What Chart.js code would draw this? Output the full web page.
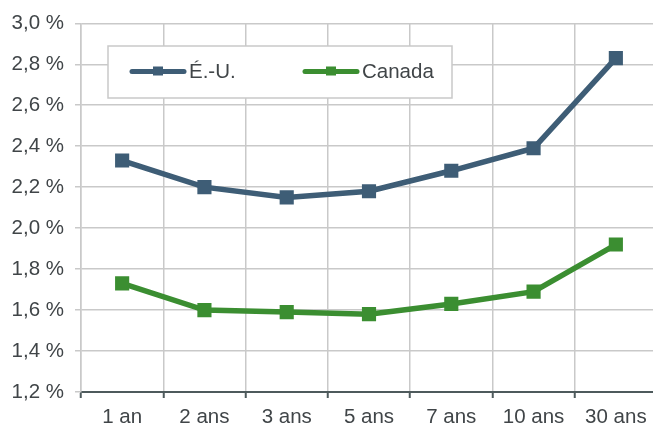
<!DOCTYPE html>
<html>
<head>
<meta charset="utf-8">
<script src="https://cdn.jsdelivr.net/npm/chart.js@4.4.1/dist/chart.umd.min.js"></script>
<style>
  html, body { margin: 0; padding: 0; background: #fff; overflow: hidden; }
  #wrap { width: 670px; height: 427px; position: relative; }
</style>
</head>
<body>
<div id="wrap"><canvas id="c" width="670" height="427"></canvas></div>
<script>
const categories = ['1 an', '2 ans', '3 ans', '5 ans', '7 ans', '10 ans', '30 ans'];
const usLabel = 'É.-U.';
const caLabel = 'Canada';
const usValues = [2.33, 2.20, 2.15, 2.18, 2.28, 2.39, 2.83];
const caValues = [1.73, 1.60, 1.59, 1.58, 1.63, 1.69, 1.92];
const yTicks = [1.2, 1.4, 1.6, 1.8, 2.0, 2.2, 2.4, 2.6, 2.8, 3.0];

const usColor = '#3e5d76';
const caColor = '#3b8e31';
const textColor = '#404548';
const gridColor = '#c9c9c9';
const FONT = '"Liberation Sans", Arial, sans-serif';
const FS = 20.5;

const legendPlugin = {
  id: 'boxLegend',
  afterDraw(chart) {
    const ctx = chart.ctx;
    ctx.save();
    const bx = 108, by = 46, bw = 344, bh = 52;
    ctx.fillStyle = '#ffffff';
    ctx.fillRect(bx, by, bw, bh);
    ctx.strokeStyle = gridColor;
    ctx.lineWidth = 1.5;
    ctx.strokeRect(bx, by, bw, bh);
    const items = [
      { x: 132, ds: chart.data.datasets[0] },
      { x: 305, ds: chart.data.datasets[1] }
    ];
    const cy = 71.5;
    items.forEach(it => {
      ctx.strokeStyle = it.ds.borderColor;
      ctx.lineWidth = 5;
      ctx.lineCap = 'round';
      ctx.beginPath();
      ctx.moveTo(it.x, cy);
      ctx.lineTo(it.x + 52, cy);
      ctx.stroke();
      ctx.fillStyle = it.ds.borderColor;
      ctx.fillRect(it.x + 21, cy - 5, 10, 9);
      ctx.fillStyle = textColor;
      ctx.font = FS + 'px ' + FONT;
      ctx.textBaseline = 'middle';
      ctx.textAlign = 'left';
      ctx.fillText(it.ds.label, it.x + 57, cy + 1);
    });
    ctx.restore();
  }
};

new Chart(document.getElementById('c'), {
  type: 'line',
  data: {
    labels: categories,
    datasets: [
      {
        label: usLabel, data: usValues,
        borderColor: usColor, backgroundColor: usColor,
        borderWidth: 5.5, pointStyle: 'rect', pointRadius: 10,
        pointBorderWidth: 0, pointHoverRadius: 10, tension: 0
      },
      {
        label: caLabel, data: caValues,
        borderColor: caColor, backgroundColor: caColor,
        borderWidth: 5.5, pointStyle: 'rect', pointRadius: 10,
        pointBorderWidth: 0, pointHoverRadius: 10, tension: 0
      }
    ]
  },
  options: {
    responsive: false,
    animation: false,
    events: [],
    layout: { padding: { top: 0, left: 10, right: 13, bottom: 0 } },
    plugins: { legend: { display: false }, tooltip: { enabled: false } },
    scales: {
      x: {
        offset: true,
        grid: { offset: true, color: gridColor, lineWidth: 1.5, tickColor: '#4e5a5c', tickLength: 6, tickWidth: 2 },
        border: { color: '#4e5a5c', width: 2 },
        ticks: { color: textColor, font: { size: FS, family: FONT }, padding: 7, maxRotation: 0, autoSkip: false },
        afterFit(s) { s.height = 35; }
      },
      y: {
        min: 1.2, max: 3.0,
        afterBuildTicks(s) { s.ticks = yTicks.map(v => ({ value: v })); },
        grid: { color: gridColor, lineWidth: 1.5, tickLength: 6 },
        border: { color: gridColor, width: 1.5 },
        ticks: {
          color: textColor, font: { size: FS, family: FONT }, padding: 11,
          callback: v => v.toFixed(1).replace('.', ',') + ' %'
        },
        afterFit(s) { s.width = 71; }
      }
    }
  },
  plugins: [legendPlugin]
});
</script>
</body>
</html>
